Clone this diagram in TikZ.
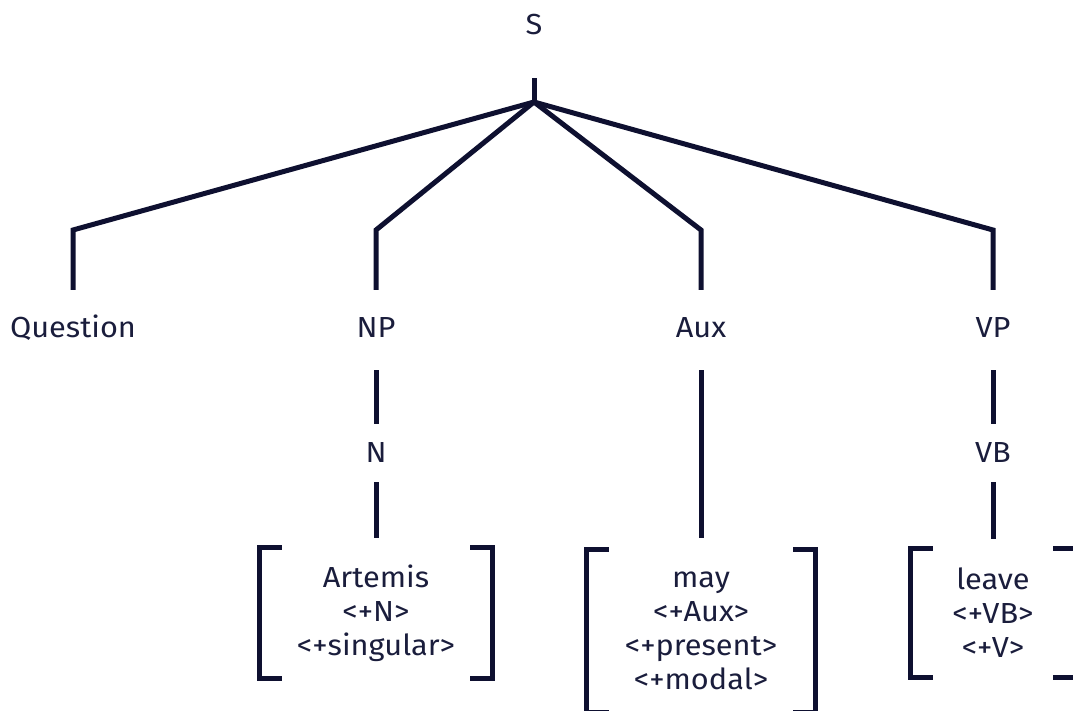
\documentclass[tikz,border=0pt]{standalone}
\usepackage{fontspec}
\setmainfont{Fira Sans}[FakeStretch=1.06]
\definecolor{navy}{HTML}{0E1030}
\definecolor{txt}{HTML}{1A1D3C}
\begin{document}
\begin{tikzpicture}[x=1pt,y=-1pt,
  edge/.style={draw=navy, line width=5pt, line join=miter},
  lab/.style={font=\fontsize{29}{32}\selectfont, text=txt, inner sep=0pt, minimum height=76pt},
  mid/.style={font=\fontsize{29}{32}\selectfont, text=txt, inner sep=0pt, minimum height=58pt},
  feat/.style={font=\fontsize{29}{34}\selectfont, text=txt, align=center, inner sep=0pt}]
\useasboundingbox (0,0) rectangle (1073,711);
\node[lab, minimum height=106pt] (S) at (534,25) {S};
\coordinate (j) at (534,102);
\node[lab] (q) at (73,328) {Question};
\node[lab] (np) at (376,328) {NP};
\node[lab] (aux) at (701,328) {Aux};
\node[lab] (vp) at (993,328) {VP};
\node[mid] (n) at (376,453) {N};
\node[mid] (vb) at (993,453) {VB};
\node[feat, minimum width=232pt, minimum height=130pt] (art) at (376,613) {Artemis\\<+N>\\<+singular>};
\node[feat, minimum width=228pt, minimum height=162pt] (may) at (701,631) {may\\<+Aux>\\<+present>\\<+modal>};
\node[feat, minimum width=164pt, minimum height=128pt] (lv) at (993,613) {leave\\<+VB>\\<+V>};
\coordinate (qb) at (73,230);
\coordinate (npb) at (376,230);
\coordinate (auxb) at (701,230);
\coordinate (vpb) at (993,230);
\draw[edge] (S.south) -- (j);
\draw[edge] (j) -- (qb) -- (q.north);
\draw[edge] (j) -- (npb) -- (np.north);
\draw[edge] (j) -- (auxb) -- (aux.north);
\draw[edge] (j) -- (vpb) -- (vp.north);
\draw[edge, shorten <=4pt] (np.south) -- (n.north);
\draw[edge, shorten <=4pt] (vp.south) -- (vb.north);
\draw[edge, shorten <=4pt, shorten >=12pt] (aux.south) -- (may.north);
\draw[edge, shorten >=10pt] (n.south) -- (art.north);
\draw[edge, shorten >=10pt] (vb.south) -- (lv.north);
\foreach \b in {art,may,lv}{
  \draw[edge] ([xshift=22pt]\b.north west) -- (\b.north west) -- (\b.south west) -- ([xshift=22pt]\b.south west);
  \draw[edge] ([xshift=-22pt]\b.north east) -- (\b.north east) -- (\b.south east) -- ([xshift=-22pt]\b.south east);
}
\end{tikzpicture}
\end{document}
